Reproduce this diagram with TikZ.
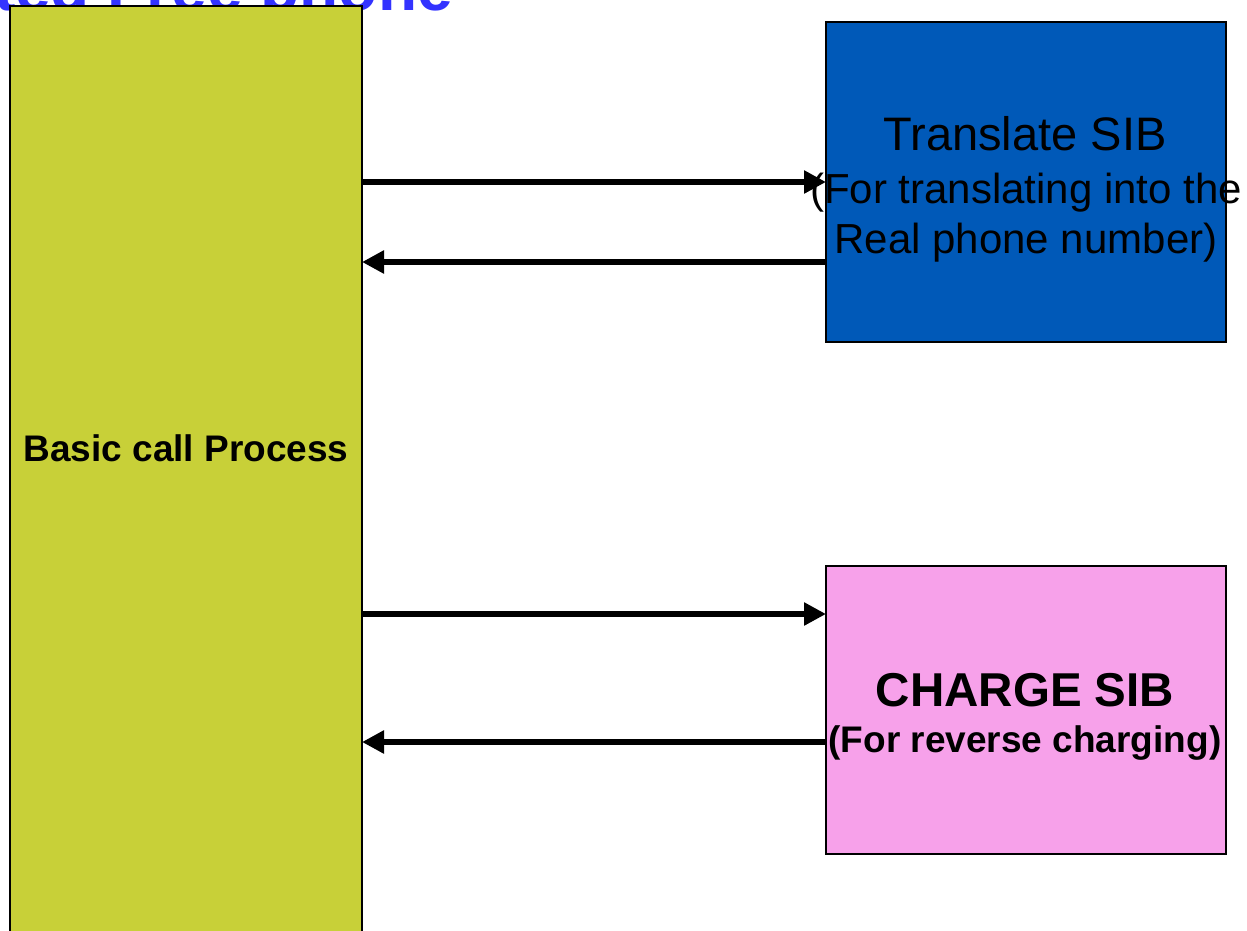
\documentclass[tikz,border=0pt]{standalone}
\usepackage{fontspec}
\setmainfont{Liberation Sans}
\usetikzlibrary{arrows.meta}
\definecolor{procgreen}{HTML}{C8D038}
\definecolor{sibblue}{HTML}{0059B8}
\definecolor{sibpink}{HTML}{F7A1EA}
\definecolor{titleblue}{HTML}{3333FF}
\tikzset{
  boxstyle/.style={draw=black, line width=2pt, inner sep=0pt, outer sep=0pt},
  flow/.style={line width=6pt, -{Triangle[length=22pt,width=22pt]}},
  lbl/.style={inner sep=0pt, anchor=base, text=black}
}
\begin{document}
\begin{tikzpicture}[x=1pt,y=-1pt]
\useasboundingbox (0,0) rectangle (1247,930);
\clip (0,0) rectangle (1247,930);
% title (mostly hidden)
\node[inner sep=0pt, anchor=base east, text=titleblue, font=\bfseries\fontsize{64}{70}\selectfont] (title) at (453,10) {ted Free phone};
% boxes
\node[boxstyle, fill=procgreen, minimum width=352pt, minimum height=940pt, anchor=north west] (bcp) at (10,6) {};
\node[boxstyle, fill=sibblue, minimum width=400pt, minimum height=320pt, anchor=north west] (tsib) at (826,22) {};
\node[boxstyle, fill=sibpink, minimum width=400pt, minimum height=288pt, anchor=north west] (csib) at (826,566) {};
% labels
\node[lbl, font=\bfseries\fontsize{37}{40}\selectfont] (bcplbl) at (186,461) {Basic call Process};
\node[lbl, font=\fontsize{47}{50}\selectfont] (t1) at (1025,150) {Translate SIB};
\node[lbl, font=\fontsize{42}{46}\selectfont] (t2) at (1026,203) {(For translating into the};
\node[lbl, font=\fontsize{42}{46}\selectfont] (t3) at (1026,253) {Real phone number)};
\node[lbl, font=\bfseries\fontsize{47.5}{50}\selectfont] (c1) at (1025,706) {CHARGE SIB};
\node[lbl, font=\bfseries\fontsize{37}{40}\selectfont] (c2) at (1025,752) {(For reverse charging)};
% connectors
\coordinate (a1s) at (bcp.east |- 0,182);
\coordinate (a1e) at (tsib.west |- 0,182);
\coordinate (a2s) at (tsib.west |- 0,262);
\coordinate (a2e) at (bcp.east |- 0,262);
\coordinate (a3s) at (bcp.east |- 0,614);
\coordinate (a3e) at (csib.west |- 0,614);
\coordinate (a4s) at (csib.west |- 0,742);
\coordinate (a4e) at (bcp.east |- 0,742);
\draw[flow] (a1s) -- (a1e);
\draw[flow] (a2s) -- (a2e);
\draw[flow] (a3s) -- (a3e);
\draw[flow] (a4s) -- (a4e);
% redraw text on top of arrow 1
\end{tikzpicture}
\end{document}
